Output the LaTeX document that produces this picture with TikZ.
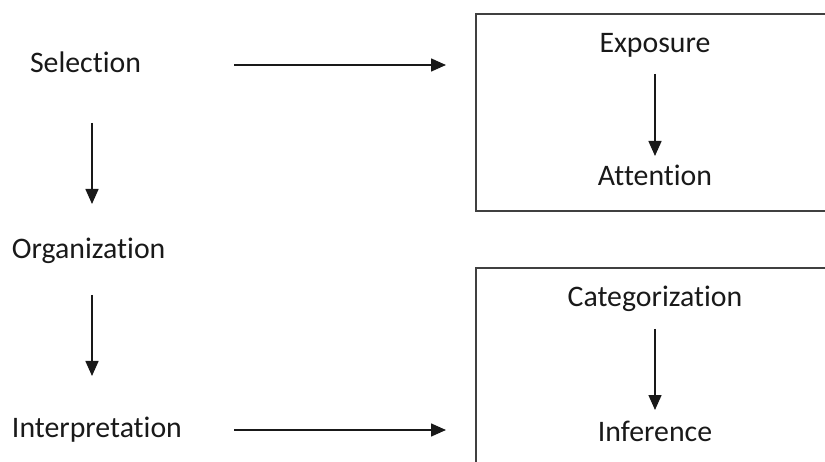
\documentclass[tikz,border=0pt]{standalone}
\usepackage{fontspec}
\setmainfont{Carlito}[Ligatures={NoCommon,NoRequired}]
\usetikzlibrary{arrows.meta}
\begin{document}
\begin{tikzpicture}[x=1pt,y=-1pt,
  lbl/.style={inner sep=0pt,outer sep=0pt,font=\fontsize{29.8}{35}\selectfont,text=black!90},
  conn/.style={line width=1.5pt,draw=black!90,-{Triangle[length=15pt,width=13pt]}},
  frame/.style={line width=2pt,draw=black!75}]
\useasboundingbox (0,0) rectangle (825,462);
% boxes
\draw[frame] (476,14) rectangle (840,211);
\draw[frame] (476,268) rectangle (840,480);
% left column
\node[lbl,anchor=base west] (sel) at (30,73) {Selection};
\node[lbl,anchor=base west] (org) at (12,259) {Organization};
\node[lbl,anchor=base west] (int) at (12,437) {Interpretation};
% right boxes
\node[lbl,anchor=base] (exp) at (655,53) {Exposure};
\node[lbl,anchor=base] (att) at (655,186) {Attention};
\node[lbl,anchor=base] (cat) at (655,307) {Categorization};
\node[lbl,anchor=base] (inf) at (655,441) {Inference};
% arrow endpoints
\coordinate (s1) at (234,65);  \coordinate (e1) at (446,65);
\coordinate (s2) at (234,430); \coordinate (e2) at (446,430);
\coordinate (s3) at (92,123);  \coordinate (e3) at (92,204);
\coordinate (s4) at (92,295);  \coordinate (e4) at (92,376);
\coordinate (s5) at (655,74);  \coordinate (e5) at (655,156);
\coordinate (s6) at (655,329); \coordinate (e6) at (655,410);
\draw[conn] (s1) -- (e1);
\draw[conn] (s2) -- (e2);
\draw[conn] (s3) -- (e3);
\draw[conn] (s4) -- (e4);
\draw[conn] (s5) -- (e5);
\draw[conn] (s6) -- (e6);
\end{tikzpicture}
\end{document}
